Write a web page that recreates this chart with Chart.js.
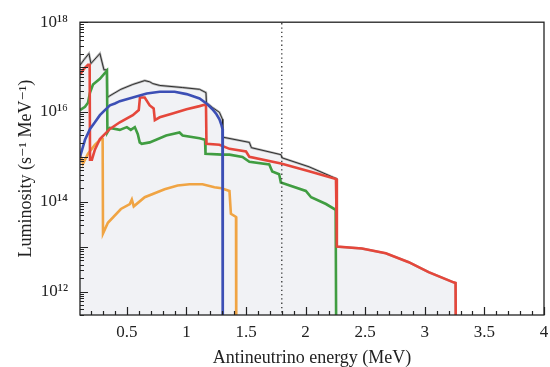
<!DOCTYPE html>
<html><head><meta charset="utf-8">
<script src="https://cdn.jsdelivr.net/npm/chart.js@4.4.1/dist/chart.umd.min.js"></script>
<style>html,body{margin:0;padding:0;background:#fff}#wrap{width:550px;height:367px}</style>
</head><body><div id="wrap"><canvas id="c" width="550" height="367"></canvas></div>
<script>
// ---- data (energy in MeV, luminosity in s^-1 MeV^-1) ----
const energyTicks = [0.5, 1, 1.5, 2, 2.5, 3, 3.5, 4];
const lumTicks = [1e12, 1e14, 1e16, 1e18];
const lumTickLabels = ['10¹²', '10¹⁴', '10¹⁶', '10¹⁸'];

const totalE = [0.107,0.140,0.182,0.199,0.274,0.308,0.333,0.336,0.358,0.450,0.550,0.650,0.692,0.717,0.776,0.968,1.110,1.164,1.168,1.218,1.277,1.302,1.305,1.528,1.545,1.793,1.803,2.029,2.255,2.262,2.472,2.673,2.865,3.032,3.241,3.258,3.262];
const totalL = [1.1e17,1.45e17,2.0e17,1.2e17,2.0e17,8.7e16,8.7e16,2.1e16,2.3e16,3.2e16,4.1e16,5.0e16,4.7e16,4.3e16,3.9e16,3.5e16,3.2e16,2.7e16,1.6e16,1.26e16,9.8e15,6.9e15,2.75e15,2.1e15,1.6e15,1.12e15,9.5e14,6.0e14,3.3e14,1.0e13,9.1e12,7.1e12,4.5e12,2.7e12,1.6e12,1.55e12,1e10];

const redE = [0.107,0.140,0.174,0.188,0.191,0.207,0.232,0.274,0.358,0.441,0.550,0.600,0.610,0.650,0.692,0.725,0.735,0.776,0.884,1.001,1.110,1.164,1.168,1.277,1.361,1.500,1.528,1.793,2.029,2.255,2.262,2.472,2.673,2.865,3.032,3.241,3.258,3.262];
const redL = [6.8e16,9.1e16,1.12e17,1.12e17,8.7e14,8.7e14,1.45e15,2.5e15,4.2e15,5.9e15,8.5e15,1.1e16,2.1e16,2.1e16,1.4e16,1.2e16,6.6e15,7.6e15,9.3e15,1.15e16,1.35e16,1.48e16,1.95e15,1.86e15,1.51e15,1.32e15,1.0e15,7.1e14,4.8e14,3.2e14,1.0e13,9.1e12,7.1e12,4.5e12,2.7e12,1.6e12,1.55e12,1e10];

const blueE = [0.107,0.149,0.191,0.232,0.274,0.316,0.358,0.400,0.441,0.550,0.667,0.776,0.901,1.001,1.110,1.168,1.218,1.252,1.277,1.294,1.302,1.305];
const blueL = [1.0e15,2.4e15,4.2e15,5.9e15,8.5e15,1.1e16,1.41e16,1.55e16,1.74e16,2.1e16,2.57e16,2.82e16,2.82e16,2.5e16,2.0e16,1.55e16,1.15e16,8.9e15,6.9e15,5.1e15,4.2e15,1e10];

const greenE = [0.107,0.149,0.174,0.191,0.216,0.274,0.333,0.337,0.358,0.441,0.500,0.533,0.567,0.592,0.608,0.625,0.692,0.830,0.942,0.968,1.110,1.156,1.160,1.302,1.361,1.470,1.528,1.695,1.720,1.778,1.792,2.002,2.046,2.171,2.252,2.258];
const greenL = [1.1e16,1.3e16,1.6e16,2.7e16,4.1e16,5.5e16,8.3e16,3.5e15,4.4e15,4.0e15,4.6e15,4.0e15,4.6e15,3.2e15,2.1e15,1.95e15,2.1e15,3.0e15,3.5e15,3.0e15,2.6e15,2.4e15,1.17e15,1.12e15,1.12e15,1.0e15,7.8e14,6.8e14,4.7e14,4.1e14,2.7e14,1.74e14,1.26e14,8.9e13,6.6e13,1e10];

const orangeE = [0.107,0.132,0.174,0.232,0.282,0.297,0.300,0.341,0.450,0.525,0.542,0.558,0.650,0.817,0.926,1.026,1.135,1.235,1.294,1.361,1.373,1.416,1.418];
const orangeL = [1.17e15,7.1e14,1.17e15,1.86e15,2.5e15,2.5e15,1.95e13,3.4e13,6.9e13,8.9e13,1.12e14,7.9e13,1.26e14,1.9e14,2.3e14,2.45e14,2.45e14,2.1e14,2.0e14,1.74e14,5.4e13,4.6e13,1e10];

const thresholdE = [1.8, 1.8];
const thresholdL = [1e10, 1e19];

const pts = (xs, ys) => xs.map((x, i) => ({x, y: ys[i]}));
const SERIF = '"Liberation Serif", "DejaVu Serif", serif';

const frameTicks = {
  id: 'frameTicks',
  afterDraw(chart) {
    const {ctx, chartArea: a, scales: {x, y}} = chart;
    ctx.save();
    ctx.strokeStyle = '#222';
    ctx.lineWidth = 1.2;
    ctx.beginPath();
    for (let k = 1; k <= 40; k++) {
      const v = k / 10;
      if (v < x.min || v > x.max) continue;
      const px = Math.round(x.getPixelForValue(v)) + 0.5;
      const len = (k % 5 === 0) ? 8 : 4;
      ctx.moveTo(px, a.bottom); ctx.lineTo(px, a.bottom - len);
    }
    for (let e = 11; e <= 18; e++) {
      for (let m = 1; m <= 9; m++) {
        const v = m * Math.pow(10, e);
        if (v < y.min || v > y.max) continue;
        const py = Math.round(y.getPixelForValue(v)) + 0.5;
        const len = (m === 1) ? 8 : 4;
        ctx.moveTo(a.left, py); ctx.lineTo(a.left + len, py);
      }
    }
    ctx.stroke();
    ctx.lineWidth = 1.3;
    ctx.strokeRect(a.left, a.top, a.right - a.left, a.bottom - a.top);
    ctx.restore();
  }
};

new Chart(document.getElementById('c'), {
  type: 'line',
  data: {
    datasets: [
      {label: 'threshold', data: pts(thresholdE, thresholdL), borderColor: '#333', borderWidth: 1.3, borderDash: [1.3, 3], order: 0},
      {label: 'blue', data: pts(blueE, blueL), borderColor: '#3c4fb5', borderWidth: 2.6, order: 1},
      {label: 'red', data: pts(redE, redL), borderColor: '#e5473b', borderWidth: 2.6, order: 2},
      {label: 'green', data: pts(greenE, greenL), borderColor: '#409d41', borderWidth: 2.6, order: 3},
      {label: 'orange', data: pts(orangeE, orangeL), borderColor: '#f0a443', borderWidth: 2.6, order: 4},
      {label: 'total', data: pts(totalE, totalL), borderColor: '#1e1e1e', borderWidth: 0.9, order: 5},
      {label: 'totalFill', data: pts(totalE, totalL), borderColor: '#b4b4b4', borderWidth: 2.4, backgroundColor: '#f1f2f5', fill: 'start', order: 6}
    ]
  },
  options: {
    responsive: false,
    animation: false,
    events: [],
    layout: {padding: {left: 12, right: 6, top: 19, bottom: 0}},
    elements: {point: {radius: 0}, line: {tension: 0, borderJoinStyle: 'miter'}},
    plugins: {legend: {display: false}, tooltip: {enabled: false}},
    scales: {
      x: {
        type: 'linear', min: 0.107, max: 4,
        afterBuildTicks: s => { s.ticks = energyTicks.map(v => ({value: v})); },
        afterFit: s => { s.height = 52; s.paddingRight = 0; s.paddingLeft = 0; },
        grid: {display: false, drawTicks: false},
        border: {display: false},
        ticks: {autoSkip: false, maxRotation: 0, padding: 7, color: '#222',
          font: {family: SERIF, size: 17}, callback: v => String(v)},
        title: {display: true, text: 'Antineutrino energy (MeV)', color: '#222',
          font: {family: SERIF, size: 18, lineHeight: 1}, padding: {top: 0, bottom: 0}}
      },
      y: {
        type: 'logarithmic', min: 3e11, max: 1e18,
        afterBuildTicks: s => { s.ticks = lumTicks.map(v => ({value: v})); },
        afterFit: s => { s.width = 68; },
        grid: {display: false, drawTicks: false},
        border: {display: false},
        ticks: {autoSkip: false, padding: 12, color: '#222',
          font: {family: SERIF, size: 17},
          callback: (v) => { const i = lumTicks.indexOf(v); return i >= 0 ? lumTickLabels[i] : ''; }},
        title: {display: true, text: 'Luminosity (s⁻¹ MeV⁻¹)', color: '#222',
          font: {family: SERIF, size: 18, lineHeight: 1}, padding: {top: 5, bottom: 0}}
      }
    }
  },
  plugins: [frameTicks]
});
</script></body></html>
